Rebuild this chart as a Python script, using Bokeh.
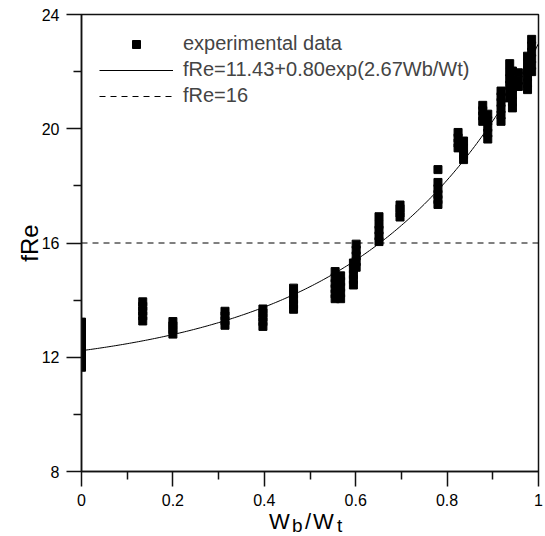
import numpy as np
from bokeh.plotting import figure
from bokeh.layouts import column
from bokeh.models import (Range1d, FixedTicker, CustomJSTickFormatter, Legend,
                          LegendItem, ColumnDataSource, Div)
from bokeh.embed import file_html
from bokeh.resources import INLINE

# ---- data ----
exp_wb = (
    [0.0] * 10 + [0.134] * 5 + [0.2] * 4 + [0.314] * 4 + [0.397] * 5 + [0.464] * 5 +
    [0.555] * 6 + [0.567] * 5 + [0.595] * 5 + [0.601] * 5 + [0.651] * 5 + [0.697] * 4 +
    [0.78] * 6 + [0.824] * 4 + [0.836] * 4 + [0.878] * 4 + [0.889] * 5 + [0.918] * 6 +
    [0.937] * 6 + [0.943] * 6 + [0.956] * 3 + [0.976] * 6 + [0.985] * 6
)
exp_fre = [
    11.65, 11.82, 12.0, 12.2, 12.38, 12.55, 12.74, 12.93, 13.1, 13.23,
    13.27, 13.45, 13.62, 13.78, 13.94,
    12.81, 12.97, 13.1, 13.25,
    13.12, 13.28, 13.45, 13.61,
    13.08, 13.25, 13.4, 13.55, 13.69,
    13.68, 13.85, 14.03, 14.22, 14.42,
    14.05, 14.22, 14.4, 14.58, 14.78, 15.0,
    14.05, 14.25, 14.45, 14.65, 14.85,
    14.53, 14.72, 14.9, 15.1, 15.3,
    15.15, 15.35, 15.55, 15.75, 15.96,
    16.05, 16.25, 16.45, 16.65, 16.92,
    16.91, 17.05, 17.2, 17.33,
    17.35, 17.52, 17.7, 17.9, 18.12, 18.57,
    19.33, 19.5, 19.68, 19.87,
    18.92, 19.1, 19.3, 19.57,
    20.26, 20.45, 20.63, 20.82,
    19.64, 19.85, 20.05, 20.28, 20.51,
    20.26, 20.48, 20.7, 20.92, 21.12, 21.32,
    21.08, 21.3, 21.52, 21.75, 22.0, 22.28,
    20.73, 20.95, 21.2, 21.45, 21.7, 22.02,
    21.48, 21.7, 21.96,
    21.37, 21.6, 21.82, 22.05, 22.3, 22.54,
    22.0, 22.22, 22.45, 22.68, 22.9, 23.13,
]

fit_a, fit_b, fit_c = 11.43, 0.80, 2.67
ref_fre = 16
x_span = [0.0, 1.0]

x_ticks = [0, 0.2, 0.4, 0.6, 0.8, 1.0]
x_minor = [0.1, 0.3, 0.5, 0.7, 0.9]
y_ticks = [8, 12, 16, 20, 24]
y_minor = [10, 14, 18, 22]

label_exp = "experimental data"
label_fit = "fRe=11.43+0.80exp(2.67Wb/Wt)"
label_ref = "fRe=16"
y_title = "fRe"

FONT = "Liberation Sans"

p = figure(width=545, height=516, output_backend="svg", toolbar_location=None,
           x_range=Range1d(0, 1), y_range=Range1d(8, 24),
           min_border_left=81, min_border_right=7, min_border_top=14,
           min_border_bottom=45)
p.background_fill_color = "white"
p.border_fill_color = "white"
p.grid.visible = False
p.outline_line_color = "#111111"
p.outline_line_width = 1.5

for ax in (p.xaxis, p.yaxis):
    ax.axis_line_color = "#111111"
    ax.axis_line_width = 1.5
    ax.major_tick_line_color = "#111111"
    ax.minor_tick_line_color = "#111111"
    ax.major_tick_line_width = 1.5
    ax.minor_tick_line_width = 1.5
    ax.major_tick_out = 15
    ax.major_tick_in = 0
    ax.minor_tick_out = 8
    ax.minor_tick_in = 0
    ax.major_label_text_font = FONT
    ax.major_label_text_font_size = "16px"
    ax.major_label_text_color = "black"

p.xaxis.ticker = FixedTicker(ticks=x_ticks, minor_ticks=x_minor)
p.yaxis.ticker = FixedTicker(ticks=y_ticks, minor_ticks=y_minor)
p.xaxis.formatter = CustomJSTickFormatter(code="return String(Math.round(tick*10)/10);")
p.xaxis.major_label_standoff = 7
p.yaxis.major_label_standoff = 7

p.yaxis.axis_label = y_title
p.yaxis.axis_label_text_font = FONT
p.yaxis.axis_label_text_font_size = "24px"
p.yaxis.axis_label_text_font_style = "normal"
p.yaxis.axis_label_text_color = "black"
p.yaxis.axis_label_standoff = -4

src = ColumnDataSource(dict(x=exp_wb, y=exp_fre))
r_exp = p.scatter("x", "y", source=src, marker="square", size=8,
                  fill_color="black", line_color="black")

fx = np.linspace(x_span[0], x_span[1], 201)
fy = fit_a + fit_b * np.exp(fit_c * fx)
r_fit = p.line(fx, fy, line_color="black", line_width=1)

r_ref = p.line(x_span, [ref_fre, ref_fre], line_color="black", line_width=1,
               line_dash="6 5")

legend = Legend(items=[LegendItem(label=label_exp, renderers=[r_exp]),
                       LegendItem(label=label_fit, renderers=[r_fit]),
                       LegendItem(label=label_ref, renderers=[r_ref])],
                location="top_left", margin=18, padding=0, spacing=3,
                glyph_width=74, glyph_height=20, label_height=20,
                label_standoff=10, border_line_color=None,
                background_fill_alpha=0,
                label_text_font=FONT, label_text_font_size="20px")
p.add_layout(legend)

# x axis title "Wb/Wt" with subscripts, placed under the plot
def piece(txt, left, top, size):
    return (f'<span style="position:absolute; left:{left}px; top:{top}px; '
            f'font-size:{size}px; line-height:{size}px; white-space:nowrap;">{txt}</span>')

xtitle_html = (
    '<div style="position:relative; width:545px; height:20px; '
    f'font-family:\'{FONT}\'; color:black;">'
    + piece("W", 269, -5, 22)
    + piece("b", 292, 0, 19)
    + piece("/", 305, -5, 22)
    + piece("W", 313, -5, 22)
    + piece("t", 337, 0, 19)
    + '</div>'
)
xtitle = Div(text=xtitle_html, width=545, height=20, margin=(0, 0, 0, 0))

layout = column(p, xtitle, spacing=0)
open("out.html", "w").write(file_html(layout, INLINE))
